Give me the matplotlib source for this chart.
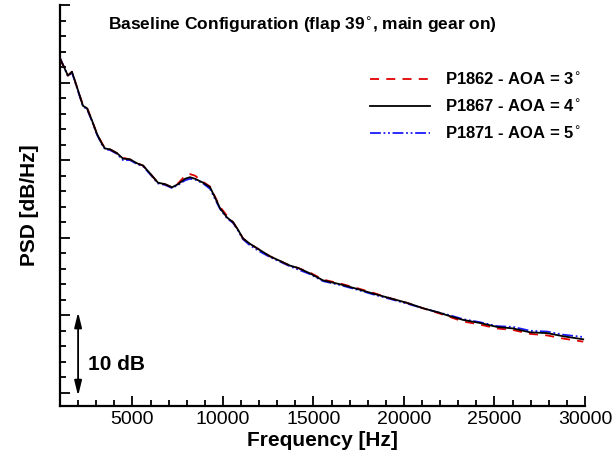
import numpy as np
import matplotlib
matplotlib.use("Agg")
import matplotlib.pyplot as plt
from matplotlib.ticker import MultipleLocator

plt.rcParams['font.family'] = ['Liberation Sans', 'DejaVu Sans']

# frequency points [Hz]
freq = [1000, 1440, 1660, 1940, 2270, 2490, 2770, 3040, 3320, 3490, 3760, 4150,
        4480, 4870, 5250, 5590, 5970, 6410, 6800, 7190, 7520, 7910, 8180, 8460,
        8900, 9290, 9560, 9840, 10230, 10560, 10840, 11110, 11500, 12050, 12600,
        13160, 13710, 14150, 14810, 15530, 16470, 17410, 18290, 19230, 20170,
        21060, 22000, 22380, 23270, 24210, 25140, 26030, 26970, 27910, 28790, 29900]

# PSD [dB/Hz]
psd_p1867 = [73.1, 70.9, 71.4, 69.4, 67.0, 66.7, 65.1, 63.4, 62.1, 61.5, 61.4, 60.9,
             60.2, 60.1, 59.6, 59.3, 58.3, 57.1, 56.9, 56.5, 56.9, 57.6, 57.8, 57.6,
             57.1, 56.5, 55.2, 53.8, 52.6, 52.0, 51.0, 49.9, 49.2, 48.4, 47.6,
             47.0, 46.4, 46.1, 45.4, 44.5, 44.0, 43.4, 42.8, 42.2, 41.6,
             40.9, 40.3, 40.0, 39.4, 39.0, 38.5, 38.3, 37.8, 37.7, 37.3, 36.9]
psd_p1862 = [73.1, 70.9, 71.4, 69.4, 67.1, 66.8, 65.1, 63.4, 62.2, 61.5, 61.4, 60.9,
             60.3, 60.1, 59.6, 59.3, 58.3, 57.1, 56.9, 56.5, 57.0, 58.0, 58.2, 58.0,
             57.2, 56.6, 55.3, 54.0, 52.8, 52.0, 51.0, 49.9, 49.2, 48.4, 47.6,
             47.0, 46.4, 46.1, 45.5, 44.6, 44.1, 43.5, 42.9, 42.2, 41.6,
             40.9, 40.2, 39.9, 39.2, 38.8, 38.3, 38.1, 37.6, 37.4, 37.0, 36.6]
psd_p1871 = [73.2, 70.8, 71.3, 69.3, 66.9, 66.6, 65.0, 63.3, 62.0, 61.4, 61.3, 60.8,
             60.0, 60.0, 59.5, 59.2, 58.2, 57.0, 56.8, 56.4, 56.8, 57.4, 57.6, 57.5,
             57.0, 56.3, 55.0, 53.7, 52.5, 51.9, 50.9, 49.8, 49.0, 48.2, 47.5,
             46.9, 46.3, 45.9, 45.3, 44.4, 43.9, 43.3, 42.7, 42.1, 41.5,
             40.9, 40.3, 40.1, 39.5, 39.1, 38.6, 38.5, 38.0, 37.9, 37.5, 37.2]

labels = ['P1862 - AOA = 3$^{\\circ}$', 'P1867 - AOA = 4$^{\\circ}$',
          'P1871 - AOA = 5$^{\\circ}$']

fig = plt.figure(figsize=(6.16, 4.58), dpi=100)
ax = fig.add_axes([0.0974, 0.1135, 0.8523, 0.8755])

l1, = ax.plot(freq, psd_p1862, color='#e00000', lw=1.3, dashes=(5, 4), zorder=3)
l3, = ax.plot(freq, psd_p1871, color='#1a1aff', lw=1.3, dashes=(6, 1.5, 1, 1.5, 1, 1.5), zorder=2)
l2, = ax.plot(freq, psd_p1867, color='black', lw=1.3, zorder=4)

ax.set_xlim(1000, 30000)
ax.set_ylim(28.3, 80)

ax.xaxis.set_major_locator(MultipleLocator(5000))
ax.xaxis.set_minor_locator(MultipleLocator(1000))
ax.yaxis.set_major_locator(MultipleLocator(10))
ax.yaxis.set_minor_locator(MultipleLocator(2))
ax.tick_params(which='both', direction='in', width=1.3, labelsize=14)
ax.tick_params(which='major', length=7)
ax.tick_params(which='minor', length=4)
ax.tick_params(axis='y', labelleft=False)

for s in ['top', 'right']:
    ax.spines[s].set_visible(False)
for s in ['left', 'bottom']:
    ax.spines[s].set_linewidth(1.6)

ax.set_xlabel('Frequency [Hz]', fontsize=15, fontweight='bold', labelpad=2)
ax.set_ylabel('PSD [dB/Hz]', fontsize=15, fontweight='bold', labelpad=12)

ax.text(0.092, 0.950, 'Baseline Configuration (flap 39$^{\\circ}$, main gear on)',
        transform=ax.transAxes, ha='left', va='center', fontsize=12.5, fontweight='bold')

# 10 dB scale bar
ax.annotate('', xy=(2000, 29.6), xytext=(2000, 40.4),
            arrowprops=dict(arrowstyle='<|-|>,head_length=0.9,head_width=0.22',
                            color='black', lw=1.3, shrinkA=0, shrinkB=0))
ax.text(2550, 33.6, '10 dB', ha='left', va='center', fontsize=15, fontweight='bold')

leg = ax.legend([l1, l2, l3], labels, loc='upper left', bbox_to_anchor=(0.59, 0.835),
                frameon=False, borderpad=0, borderaxespad=0, handlelength=3.6,
                handletextpad=0.9, labelspacing=0.6, prop={'size': 12, 'weight': 'bold'})

fig.savefig('out.png', dpi=100)
